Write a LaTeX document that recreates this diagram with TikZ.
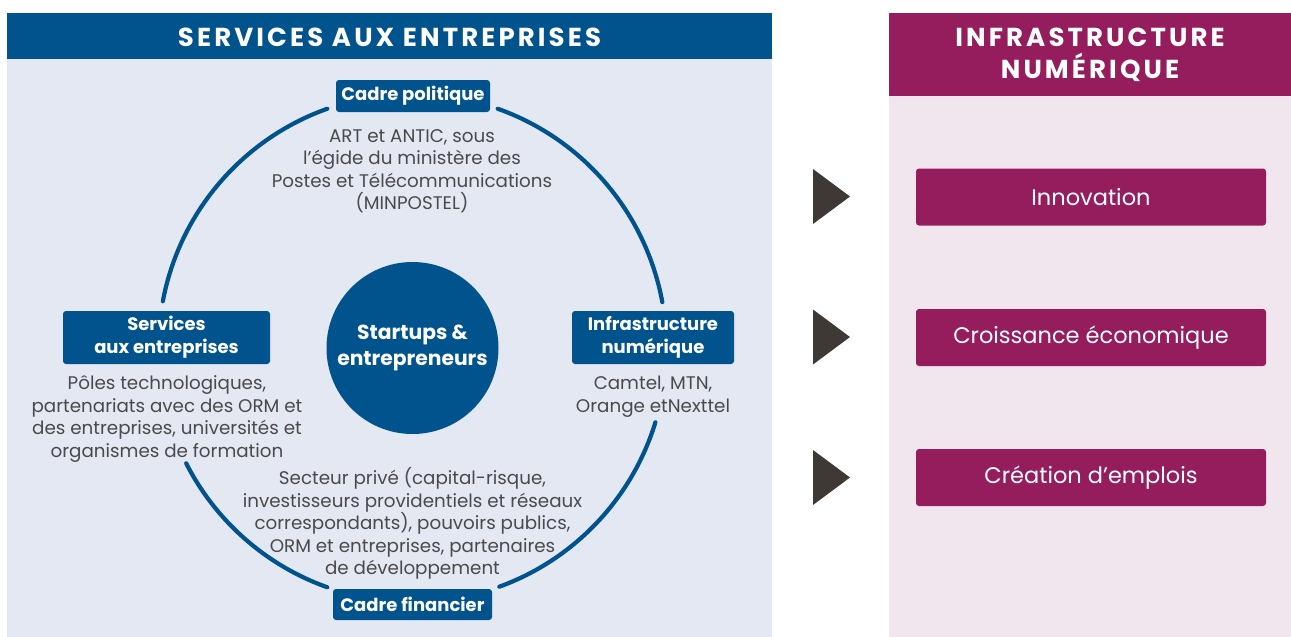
\documentclass[tikz,border=0pt]{standalone}
\usepackage{fontspec}
\setmainfont{Poppins}
\definecolor{brandblue}{HTML}{00538C}
\definecolor{panelblue}{HTML}{E3E8F3}
\definecolor{brandmag}{HTML}{951D5E}
\definecolor{panelpink}{HTML}{F1E6ED}
\definecolor{arrowgray}{HTML}{3E3935}
\definecolor{bodygray}{HTML}{4A4A4A}
\begin{document}
\begin{tikzpicture}[x=1pt,y=-1pt,
  bluebox/.style={fill=brandblue,rounded corners=3pt,inner sep=0pt,align=center,
    text=white,font=\fontsize{18}{23}\selectfont\bfseries},
  magbox/.style={fill=brandmag,rounded corners=3pt,inner sep=0pt,
    minimum width=350pt,minimum height=57pt,text=white,
    font=\fontsize{22.5}{26}\selectfont},
  bodytext/.style={align=center,text=bodygray,inner sep=0pt,yshift=-2.5pt,
    font=\fontsize{18.3}{22.5}\selectfont},
  headtext/.style={align=center,text=white,inner sep=0pt,
    font=\fontsize{26}{31.5}\selectfont\bfseries\addfontfeatures{LetterSpace=12}},
  ring/.style={draw=brandblue,line width=4.2pt,line cap=round},
  tri/.style={fill=arrowgray}]
\useasboundingbox (0,0) rectangle (1291,637);

% panels
\fill[panelblue] (7,13) rectangle (772,637);
\fill[brandblue] (7,13) rectangle (772,59);
\fill[panelpink] (889,13) rectangle (1291,637);
\fill[brandmag] (889,13) rectangle (1291,96);

\node[headtext] (hleft) at (389.5,37) {SERVICES AUX ENTREPRISES};
\node[headtext] (hright) at (1090,55) {INFRASTRUCTURE\\NUMÉRIQUE};

% ring segments around the hub
\coordinate (hub) at (412.5,348);
\draw[ring] (hub) ++(250.4:254) arc[start angle=250.4,end angle=190.6,radius=254];
\draw[ring] (hub) ++(289.6:254) arc[start angle=289.6,end angle=349.6,radius=254];
\draw[ring] (hub) ++(153:254) arc[start angle=153,end angle=109.6,radius=254];
\draw[ring] (hub) ++(17:254) arc[start angle=17,end angle=70,radius=254];

% central hub
\node[circle,fill=brandblue,minimum size=172pt,inner sep=0pt,align=center,text=white,
  font=\fontsize{20.3}{26}\selectfont\bfseries] (startups) at (hub)
  {Startups \&\\entrepreneurs};

% labelled frames
\node[bluebox,minimum width=154pt,minimum height=32pt] (politique) at (413,96) {Cadre politique};
\node[bodytext] (politiquetxt) at (412,168.5)
  {ART et ANTIC, sous\\l’égide du ministère des\\Postes et Télécommunications\\(MINPOSTEL)};

\node[bluebox,minimum width=207pt,minimum height=53pt] (services) at (166.5,337.5)
  {Services\\aux entreprises};
\node[bodytext] (servicestxt) at (167,416.5)
  {Pôles technologiques,\\partenariats avec des ORM et\\des entreprises, universités et\\organismes de formation};

\node[bluebox,minimum width=162pt,minimum height=53pt] (infra) at (653,337.5)
  {Infrastructure\\numérique};
\node[bodytext] (infratxt) at (653,394)
  {Camtel, MTN,\\Orange etNexttel};

\node[bodytext] (financiertxt) at (412.5,521)
  {Secteur privé (capital-risque,\\investisseurs providentiels et réseaux\\correspondants), pouvoirs publics,\\ORM et entreprises, partenaires\\de développement};
\node[bluebox,minimum width=159pt,minimum height=31pt] (financier) at (412.5,604.5) {Cadre financier};

% outcomes
\fill[tri] (813,169) -- (850,196.5) -- (813,224) -- cycle;
\fill[tri] (813,309.5) -- (850,337) -- (813,364.5) -- cycle;
\fill[tri] (813,450) -- (850,477.5) -- (813,505) -- cycle;
\node[magbox] (innovation) at (1091,197) {Innovation};
\node[magbox] (croissance) at (1091,337.5) {Croissance économique};
\node[magbox] (emplois) at (1091,477.5) {Création d’emplois};
\end{tikzpicture}
\end{document}
